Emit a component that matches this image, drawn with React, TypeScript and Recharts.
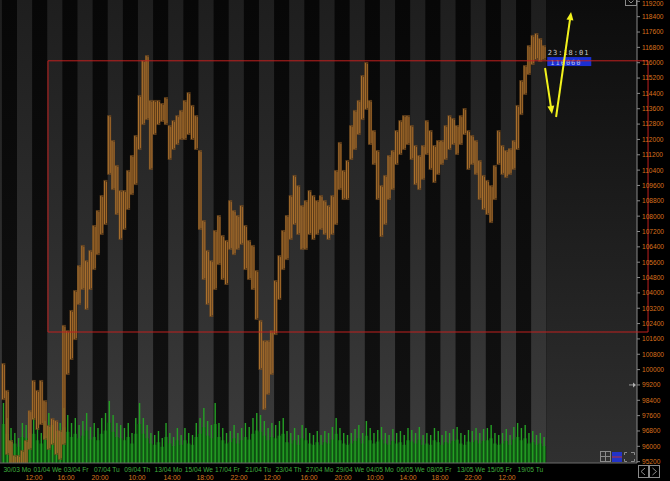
import React from 'react';
import { ComposedChart, Bar, XAxis, YAxis, ReferenceArea, ReferenceLine, ReferenceDot } from 'recharts';

// ---- data (4 samples per trading day, day index = x unit) ----
const highs = [
  100340, 98940, 96330, 95550,
  95550, 95810, 96330, 97890,
  99460, 98940, 99460, 98410,
  97110, 97480, 97370, 96850,
  102330, 102060, 103110, 104150,
  105450, 106500, 105710, 106240,
  107540, 108320, 109100, 109890,
  113270, 111970, 110670, 109360,
  109360, 110410, 111190, 112230,
  114320, 116140, 116400, 114060,
  114060, 114060, 113900, 114210,
  112750, 113010, 113270, 113540,
  114060, 114470, 113800, 113270,
  111450, 107800, 106240, 105710,
  107280, 108060, 107020, 106760,
  108840, 108320, 108060, 108580,
  107540, 106760, 106500, 105190,
  102590, 101540, 101540, 102060,
  104670, 105970, 107280, 108060,
  109100, 110150, 109620, 108580,
  108840, 109360, 109100, 108840,
  109100, 108840, 108580, 109100,
  110410, 111870, 110410, 110930,
  112750, 113540, 114060, 115360,
  116040, 114060, 112490, 111450,
  109620, 110150, 111190, 111450,
  112490, 113010, 113270, 113270,
  112750, 111710, 111190, 111710,
  113010, 112490, 111710, 111970,
  111970, 112750, 113270, 113120,
  112750, 113270, 113640, 112490,
  112230, 111970, 110930, 110150,
  109890, 109620, 110670, 112490,
  111710, 111450, 111550, 111970,
  113800, 115100, 115880, 116920,
  117450, 117550, 117290, 116920,
];

const lows = [
  98410, 95550, 94760, 94240,
  94500, 94760, 95030, 95810,
  97370, 96850, 97110, 96330,
  95810, 96070, 95550, 95290,
  96070, 99720, 100500, 101540,
  103370, 104150, 103110, 104150,
  105190, 105970, 107020, 107540,
  110150, 109360, 108060, 106760,
  107280, 108320, 109100, 109620,
  111450, 112750, 113010, 110410,
  112230, 112750, 112910, 112750,
  110930, 111450, 111710, 111970,
  111970, 112230, 111970, 111450,
  107280, 104670, 103370, 102740,
  104150, 105450, 104670, 104410,
  106240, 105970, 106240, 106500,
  105190, 104670, 104150, 102590,
  99980, 97890, 98680, 99720,
  101800, 103630, 105190, 105710,
  106760, 107540, 107020, 106240,
  106240, 107020, 106760, 107020,
  107280, 107020, 106760, 107020,
  107540, 109360, 108840, 108840,
  110930, 111450, 112230, 113010,
  113540, 111710, 110670, 108840,
  106910, 107540, 108840, 109360,
  110670, 111190, 111450, 111710,
  110930, 109620, 109360, 109890,
  111190, 110410, 109730, 110150,
  110670, 110930, 111450, 111710,
  111190, 111710, 112230, 110410,
  110670, 110150, 108840, 108320,
  108060, 107640, 108840, 110670,
  110150, 109990, 110150, 110410,
  111450, 113270, 114320, 115360,
  115880, 116140, 116040, 116140,
];

const volumes = [
  600, 450, 350, 300,
  250, 400, 380, 300,
  450, 350, 300, 420,
  500, 380, 320, 400,
  550, 480, 400, 450,
  380, 420, 500, 360,
  400, 350, 450, 500,
  620, 480, 400, 380,
  350, 400, 300, 450,
  600, 450, 380, 300,
  280, 320, 250, 400,
  300, 260, 350, 280,
  350, 300, 280, 400,
  450, 550, 420, 380,
  600, 400, 350, 300,
  320, 380, 300, 350,
  400, 360, 450, 500,
  480, 420, 350, 400,
  380, 420, 450, 320,
  300, 350, 280, 380,
  350, 300, 280, 320,
  280, 320, 300, 360,
  450, 350, 300, 280,
  300, 340, 380, 300,
  420, 350, 300, 330,
  360, 300, 280, 340,
  300, 320, 280, 350,
  330, 300, 360, 280,
  300, 280, 350, 320,
  280, 320, 300, 340,
  360, 300, 280, 330,
  320, 350, 300, 340,
  350, 380, 300, 280,
  300, 340, 280, 360,
  400, 350, 380, 300,
  320, 280, 300, 260,
];

const SAMPLES_PER_DAY = 4;

const dateTickDays = [0, 2, 4, 6, 8, 10, 12, 14, 16, 18, 20, 22, 24, 26, 28, 30, 32, 34];
const dateLabels = [
  '30/03 Mo', '01/04 We', '03/04 Fr', '07/04 Tu', '09/04 Th', '13/04 Mo', '15/04 We', '17/04 Fr', '21/04 Tu',
  '23/04 Th', '27/04 Mo', '29/04 We', '04/05 Mo', '06/05 We', '08/05 Fr', '13/05 We', '15/05 Fr', '19/05 Tu',
];

const timeTickPos = [2.12, 4.24, 6.49, 8.94, 11.25, 13.43, 15.68, 17.87, 20.31, 22.56, 24.68, 26.86, 28.98, 31.16, 33.41];
const timeLabels = ['12:00', '16:00', '20:00', '10:00', '14:00', '18:00', '22:00', '12:00', '16:00', '20:00', '10:00', '14:00', '18:00', '22:00', '12:00'];

const priceTicks = [
  95200, 96000, 96800, 97600, 98400, 99200, 100000, 100800, 101600, 102400, 103200, 104000, 104800, 105600,
  106400, 107200, 108000, 108800, 109600, 110400, 111200, 112000, 112800, 113600, 114400, 115200, 116000,
  116800, 117600, 118400, 119200,
];

const grayDays = [-1, 1, 3, 5, 7, 9, 11, 13, 15, 17, 19, 21, 23, 25, 27, 29, 31, 33, 35];
const lastDataDay = 36;
const xDomain = [-0.124, 42];
const yDomain = [95130, 119270];

const lastPrice = 116060;
const lastTime = '23:18:01';
const markerPrice = 99200;

const boxRange = { x1: 3.05, x2: 42.73, y1: 101960, y2: 116100 };
const arrows = [
  { x1: 35.92, y1: 115725, x2: 36.38, y2: 113326 },
  { x1: 36.65, y1: 113170, x2: 37.64, y2: 118644 },
];

const rows = highs.map((h, i) => ({
  x: i / SAMPLES_PER_DAY + 0.5 / SAMPLES_PER_DAY,
  range: [lows[i], h],
  vol: volumes[i],
}));

// ---- render helpers ----
const DateTick = (props: any) => {
  const { x, y, payload } = props;
  const idx = dateTickDays.indexOf(payload.value);
  return (
    <text x={x + 1.5} y={y + 6.5} fill="#3fae3f" fontSize={6.6} fontFamily="Liberation Sans, Arial" textAnchor="start">
      {dateLabels[idx]}
    </text>
  );
};

const TimeTick = (props: any) => {
  const { x, y, payload } = props;
  const idx = timeTickPos.indexOf(payload.value);
  return (
    <text x={x} y={y + 6.5} fill="#d8761f" fontSize={6.8} fontFamily="Liberation Sans, Arial" textAnchor="middle">
      {timeLabels[idx]}
    </text>
  );
};

const PriceTick = (props: any) => {
  const { x, y, payload } = props;
  return (
    <text x={x} y={Math.max(y + 2.4, 5.5)} fill="#d8701c" fontSize={6.6} fontFamily="Liberation Sans, Arial" textAnchor="start">
      {payload.value}
    </text>
  );
};

const PriceBarShape = (props: any) => {
  const { x, y, width, height } = props;
  if (height == null || isNaN(height)) return null;
  const cx = x + width / 2;
  const h = Math.max(height, 1);
  return (
    <g>
      <rect x={cx - 2} y={y} width={4} height={h} fill="#7a4f20" fillOpacity={0.7} />
      <rect x={cx - 1.4} y={y + 1} width={0.9} height={Math.max(h - 2, 1)} fill="#b3772f" />
      <rect x={cx + 0.6} y={y + 2} width={0.9} height={Math.max(h - 4, 1)} fill="#a86c2a" />
    </g>
  );
};

const VolumeBarShape = (props: any) => {
  const { x, y, width, height } = props;
  if (height == null || isNaN(height)) return null;
  const cx = x + width / 2;
  return (
    <g>
      <rect x={cx - 1.9} y={y + height * 0.35} width={3.8} height={height * 0.65} fill="#0f5a12" />
      <rect x={cx - 0.6} y={y} width={1.4} height={height} fill="#25a025" />
    </g>
  );
};

const ArrowShape = (props: any) => {
  const { x1, y1, x2, y2 } = props;
  const ang = Math.atan2(y2 - y1, x2 - x1);
  const len = 8;
  const half = 3.5;
  const bx = x2 - len * Math.cos(ang);
  const by = y2 - len * Math.sin(ang);
  const px = -Math.sin(ang) * half;
  const py = Math.cos(ang) * half;
  return (
    <g>
      <line x1={x1} y1={y1} x2={bx} y2={by} stroke="#f2f21c" strokeWidth={2} />
      <polygon points={`${x2},${y2} ${bx + px},${by + py} ${bx - px},${by - py}`} fill="#f2f21c" />
    </g>
  );
};

const LastPriceShape = (props: any) => {
  const { cx, cy } = props;
  return (
    <g>
      <text x={cx + 1.5} y={cy - 6.5} fill="#c8c8c8" fontSize={7} fontFamily="DejaVu Sans Mono, monospace" letterSpacing={1}>
        {lastTime}
      </text>
      <rect x={cx + 1} y={cy - 4.5} width={44} height={9} fill="#1b2fd2" />
      <text x={cx + 4} y={cy + 3} fill="#b8c0e8" fontSize={7} fontFamily="DejaVu Sans Mono, monospace" letterSpacing={1}>
        {lastPrice}
      </text>
    </g>
  );
};

const MarkerShape = (props: any) => {
  const { cx, cy } = props;
  return (
    <g>
      <line x1={cx - 8} y1={cy} x2={cx - 2} y2={cy} stroke="#9a9a9a" strokeWidth={1} />
      <polygon points={`${cx - 1},${cy} ${cx - 4},${cy - 2.5} ${cx - 4},${cy + 2.5}`} fill="#b0b0b0" />
    </g>
  );
};

const ToolIcons = () => (
  <svg width={670} height={481} style={{ position: 'absolute', left: 0, top: 0, pointerEvents: 'none' }}>
    <g stroke="#8a8a8a" strokeWidth={1} fill="none">
      <rect x={600.5} y={451.5} width={10} height={10} />
      <line x1={605.5} y1={451.5} x2={605.5} y2={461.5} />
      <line x1={600.5} y1={456.5} x2={610.5} y2={456.5} />
    </g>
    <rect x={612} y={452} width={10} height={10} fill="#2233c8" />
    <line x1={612} y1={457} x2={622} y2={457} stroke="#c03030" strokeWidth={1} />
    <g stroke="#8a8a8a" strokeWidth={1} fill="none">
      <path d="M624.5 455 V452.5 H627 M631 452.5 H634.5 V455 M634.5 459 V461.5 H631 M627 461.5 H624.5 V459" />
      <rect x={638.5} y={465.5} width={10} height={12} />
      <rect x={649.5} y={465.5} width={10} height={12} />
      <path d="M645 468 L641 471.5 L645 475" />
      <path d="M652.5 468 L656.5 471.5 L652.5 475" />
      <rect x={625.5} y={-1.5} width={11} height={7} />
      <path d="M628.5 0.5 L631 3 L633.5 0.5" />
    </g>
  </svg>
);

export default function App() {
  return (
    <div style={{ position: 'absolute', left: 0, top: 0, width: 670, height: 481, background: '#000', overflow: 'hidden' }}>
      <ComposedChart width={670} height={481} data={rows} margin={{ top: 0, right: 0, bottom: 0, left: 0 }}>
        <defs>
          <linearGradient id="blackBand" x1="0" y1="0" x2="0" y2="1">
            <stop offset="0%" stopColor="#070707" />
            <stop offset="100%" stopColor="#121212" />
          </linearGradient>
          <linearGradient id="grayBand" x1="0" y1="0" x2="0" y2="1">
            <stop offset="0%" stopColor="#1e1e1e" />
            <stop offset="45%" stopColor="#2b2b2b" />
            <stop offset="100%" stopColor="#3c3c3c" />
          </linearGradient>
          <linearGradient id="futureBand" x1="0" y1="0" x2="0" y2="1">
            <stop offset="0%" stopColor="#0c0c0c" />
            <stop offset="45%" stopColor="#1c1c1c" />
            <stop offset="100%" stopColor="#303030" />
          </linearGradient>
        </defs>

        <XAxis
          xAxisId="d"
          type="number"
          dataKey="x"
          domain={xDomain}
          allowDataOverflow
          ticks={dateTickDays}
          interval={0}
          tick={<DateTick />}
          tickLine={false}
          tickSize={0}
          height={8}
          axisLine={{ stroke: '#6a6a6a' }}
        />
        <XAxis
          xAxisId="t"
          type="number"
          dataKey="x"
          domain={xDomain}
          allowDataOverflow
          ticks={timeTickPos}
          interval={0}
          tick={<TimeTick />}
          tickLine={false}
          tickSize={0}
          height={10}
          axisLine={false}
        />
        <YAxis
          yAxisId="p"
          orientation="right"
          type="number"
          domain={yDomain}
          allowDataOverflow
          ticks={priceTicks}
          interval={0}
          width={33}
          tickSize={3}
          tickMargin={2}
          tick={<PriceTick />}
          tickLine={{ stroke: '#8a8a8a' }}
          axisLine={{ stroke: '#8a8a8a' }}
        />
        <YAxis yAxisId="v" hide type="number" domain={[0, 4630]} allowDataOverflow />

        <ReferenceArea xAxisId="d" yAxisId="p" x1={xDomain[0]} x2={lastDataDay} fill="url(#blackBand)" fillOpacity={1} ifOverflow="hidden" zIndex={-300} />
        {grayDays.map((d) => (
          <ReferenceArea key={d} xAxisId="d" yAxisId="p" x1={d} x2={d + 1} fill="url(#grayBand)" fillOpacity={1} ifOverflow="hidden" zIndex={-200} />
        ))}
        <ReferenceArea xAxisId="d" yAxisId="p" x1={lastDataDay} x2={xDomain[1]} fill="url(#futureBand)" fillOpacity={1} ifOverflow="hidden" zIndex={-200} />

        <Bar xAxisId="t" yAxisId="v" dataKey="vol" barSize={3} fill="#1d8a1d" shape={<VolumeBarShape />} isAnimationActive={false} />
        <Bar xAxisId="d" yAxisId="p" dataKey="range" barSize={3} fill="#9a6328" shape={<PriceBarShape />} isAnimationActive={false} />

        <ReferenceArea
          xAxisId="d"
          yAxisId="p"
          x1={boxRange.x1}
          x2={boxRange.x2}
          y1={boxRange.y1}
          y2={boxRange.y2}
          fill="none"
          fillOpacity={0}
          stroke="#c0201e"
          strokeWidth={1}
          ifOverflow="visible"
          zIndex={1500}
        />
        <ReferenceDot xAxisId="d" yAxisId="p" x={lastDataDay} y={lastPrice} shape={<LastPriceShape />} ifOverflow="visible" zIndex={1400} />
        <ReferenceDot xAxisId="d" yAxisId="p" x={xDomain[1]} y={markerPrice} shape={<MarkerShape />} ifOverflow="visible" zIndex={1400} />
        {arrows.map((a, i) => (
          <ReferenceLine
            key={i}
            xAxisId="d"
            yAxisId="p"
            segment={[{ x: a.x1, y: a.y1 }, { x: a.x2, y: a.y2 }]}
            shape={ArrowShape}
            ifOverflow="visible"
            zIndex={1600}
          />
        ))}
      </ComposedChart>
      <ToolIcons />
    </div>
  );
}
